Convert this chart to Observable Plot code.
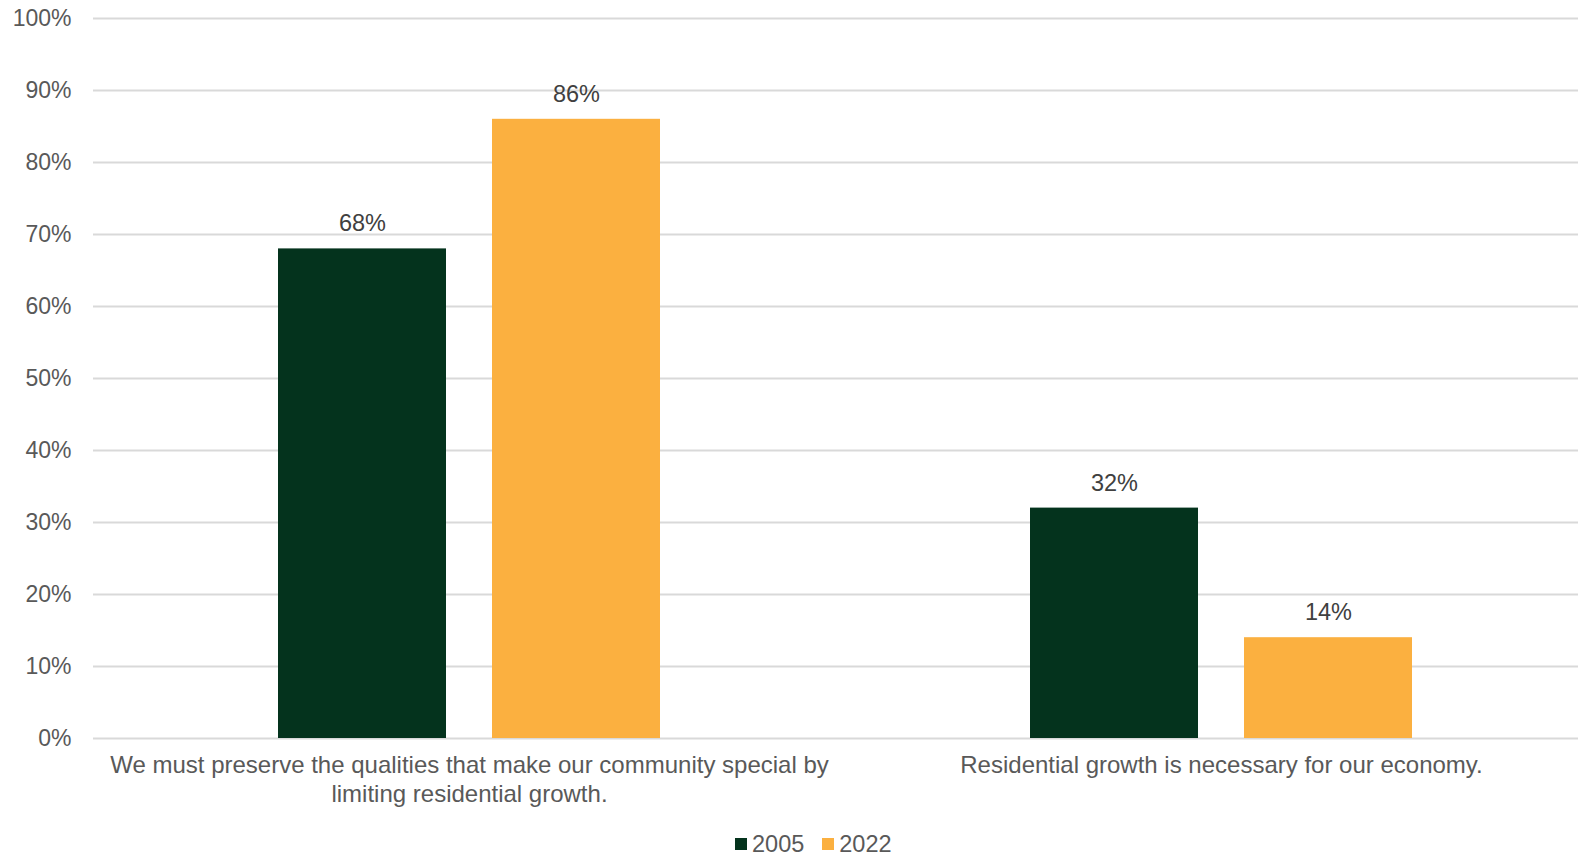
<!DOCTYPE html>
<html><head><meta charset="utf-8">
<script src="https://cdn.jsdelivr.net/npm/d3@7"></script>
<script src="https://cdn.jsdelivr.net/npm/@observablehq/plot@0.6"></script>
<style>
body{margin:0;background:#fff;font-family:"Liberation Sans",Arial,sans-serif;overflow:hidden}
#legend{display:flex;align-items:center;height:58px;padding-left:735px;font-size:23.5px;color:#595959}
.sw{width:12px;height:12px;margin-right:5px}
.item{display:flex;align-items:center;margin-right:18px}
</style></head><body><div id="chart"></div><div id="legend"></div>
<script>
const categories = [
  "We must preserve the qualities that make our community special by limiting residential growth.",
  "Residential growth is necessary for our economy."
];
const categoryLabels = [
  "We must preserve the qualities that make our community special by\nlimiting residential growth.",
  "Residential growth is necessary for our economy."
];
const years = ["2005", "2022"];
const values2005 = [68, 32];
const values2022 = [86, 14];
const yTicks = [0, 10, 20, 30, 40, 50, 60, 70, 80, 90, 100];
const colors = ["#04331D", "#FBB040"];

const data = categories.flatMap((c, i) => [
  {category: c, year: years[0], value: values2005[i]},
  {category: c, year: years[1], value: values2022[i]}
]);

const plot = Plot.plot({
  width: 1578, height: 815,
  marginLeft: 93, marginRight: -19, marginTop: 18, marginBottom: 77,
  style: {fontFamily: '"Liberation Sans", Arial, sans-serif', fontSize: "23px", color: "#595959", background: "#fff"},
  fx: {domain: categories, padding: 0, label: null},
  x: {domain: years, paddingInner: 0.215, paddingOuter: 0.8645, axis: null},
  y: {domain: [0, 100], axis: null},
  color: {domain: years, range: colors},
  marks: [
    Plot.ruleY(yTicks, {stroke: "#d9d9d9", strokeWidth: 2}),
    Plot.axisY(yTicks, {tickSize: 0, tickPadding: 22, tickFormat: d => d + "%", label: null, fill: "#595959"}),
    Plot.axisFx({anchor: "bottom", tickSize: 0, tickPadding: 14, fontSize: 24, tickFormat: d => categoryLabels[categories.indexOf(d)], lineHeight: 1.21, label: null, fill: "#595959"}),
    Plot.barY(data, {fx: "category", x: "year", y: "value", fill: "year"}),
    Plot.text(data, {fx: "category", x: "year", y: "value", text: d => d.value + "%", dy: -25, fontSize: 23.5, fill: "#404040"})
  ]
});
document.getElementById("chart").appendChild(plot);

const legend = document.getElementById("legend");
years.forEach((y, i) => {
  const item = document.createElement("div");
  item.className = "item";
  const sw = document.createElement("div");
  sw.className = "sw";
  sw.style.background = colors[i];
  const t = document.createElement("span");
  t.textContent = y;
  item.appendChild(sw);
  item.appendChild(t);
  legend.appendChild(item);
});
</script>
</body></html>
